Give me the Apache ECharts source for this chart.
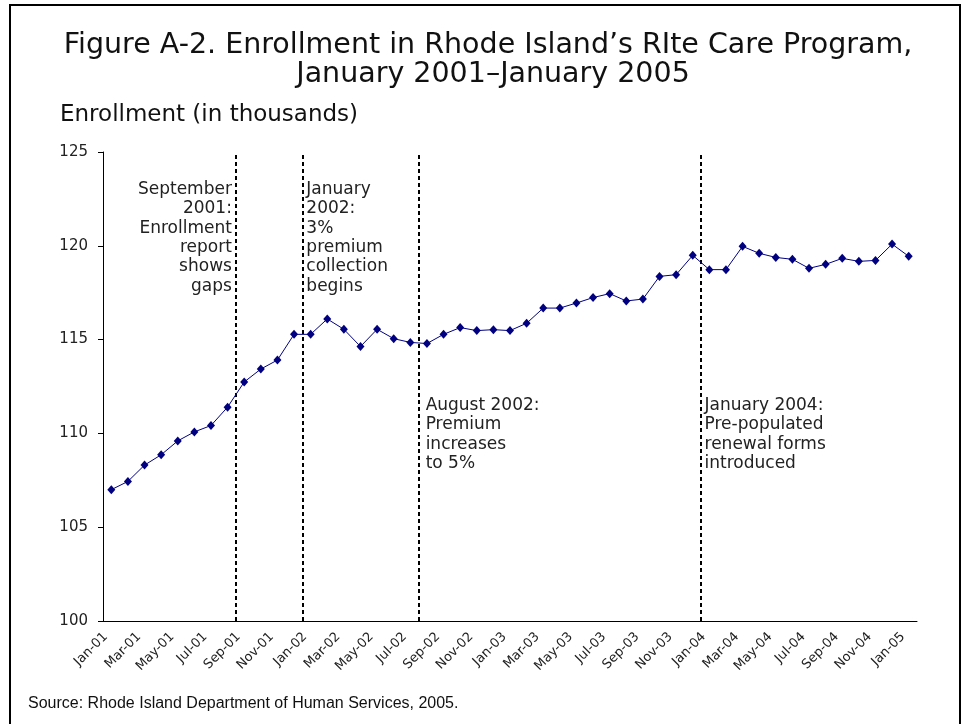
<!DOCTYPE html>
<html>
<head>
<meta charset="utf-8">
<script src="https://cdn.jsdelivr.net/npm/echarts@6/dist/echarts.min.js"></script>
<style>
html,body{margin:0;padding:0;background:#fff;}
#c{width:961px;height:724px;}
</style>
</head>
<body>
<div id="c"></div>
<script>
const months = ['Jan-01','Feb-01','Mar-01','Apr-01','May-01','Jun-01','Jul-01','Aug-01','Sep-01','Oct-01','Nov-01','Dec-01',
  'Jan-02','Feb-02','Mar-02','Apr-02','May-02','Jun-02','Jul-02','Aug-02','Sep-02','Oct-02','Nov-02','Dec-02',
  'Jan-03','Feb-03','Mar-03','Apr-03','May-03','Jun-03','Jul-03','Aug-03','Sep-03','Oct-03','Nov-03','Dec-03',
  'Jan-04','Feb-04','Mar-04','Apr-04','May-04','Jun-04','Jul-04','Aug-04','Sep-04','Oct-04','Nov-04','Dec-04',
  'Jan-05'];
const enrollment = [107.0,107.44,108.31,108.86,109.6,110.08,110.42,111.4,112.74,113.43,113.91,115.28,
  115.28,116.1,115.55,114.63,115.55,115.05,114.85,114.79,115.28,115.64,115.48,115.53,
  115.48,115.87,116.68,116.68,116.95,117.24,117.45,117.06,117.16,118.37,118.46,119.49,
  118.73,118.73,119.97,119.6,119.38,119.28,118.8,119.01,119.33,119.17,119.22,120.09,119.44];
const yTicks = [100,105,110,115,120,125];
// event boundaries: index of month where event starts (line drawn at start of that month)
const eventStart = [8, 12, 19, 36];
const eventNotes = [
  'September\n2001:\nEnrollment\nreport\nshows\ngaps',
  'January\n2002:\n3%\npremium\ncollection\nbegins',
  'August 2002:\nPremium\nincreases\nto 5%',
  'January 2004:\nPre-populated\nrenewal forms\nintroduced'
];
const titleLines = ["Figure A-2. Enrollment in Rhode Island\u2019s RIte Care Program,", "January 2001\u2013January 2005"];
const yAxisTitle = 'Enrollment (in thousands)';
const sourceNote = 'Source: Rhode Island Department of Human Services, 2005.';

const chart = echarts.init(document.getElementById('c'), null, {renderer:'canvas'});
const FONT = 'DejaVu Sans';
const option = {
  animation: false,
  textStyle: {fontFamily: FONT},
  grid: {left: 103, right: 44, top: 152, bottom: 103},
  xAxis: [{
    type: 'category', data: months, boundaryGap: true,
    axisLine: {lineStyle: {color: '#000', width: 1}},
    axisTick: {interval: 1, length: 5, lineStyle: {color: '#000'}},
    axisLabel: {interval: 1, rotate: 45, fontSize: 13, color: '#222', fontFamily: FONT, margin: 8, padding: [0, 8, 0, 0]}
  }, {
    type: 'value', min: 0, max: months.length, show: false
  }],
  yAxis: {
    type: 'value', min: yTicks[0], max: yTicks[yTicks.length-1], interval: yTicks[1]-yTicks[0],
    axisLine: {show: true, lineStyle: {color: '#000', width: 1}},
    axisTick: {show: true, length: 5, lineStyle: {color: '#000'}},
    axisLabel: {fontSize: 15, color: '#222', margin: 15, fontFamily: FONT},
    splitLine: {show: false}
  },
  series: [{
    type: 'line', data: enrollment, symbol: 'diamond', symbolSize: [8, 9],
    lineStyle: {color: '#000080', width: 1}, itemStyle: {color: '#000080'}, z: 5
  }, {
    type: 'line', xAxisIndex: 1, data: [],
    markLine: {
      silent: true, symbol: 'none', label: {show: false},
      lineStyle: {color: '#000', type: [4, 3], width: 2},
      data: eventStart.map(v => ({xAxis: v}))
    }
  }]
};
chart.setOption(option);

const xs = eventStart.map(v => chart.convertToPixel({xAxisIndex: 1}, v));
const annStyle = {fill: '#222', fontSize: 17, fontFamily: FONT, lineHeight: 19.3};
const graphics = [
  {type: 'rect', shape: {x: 10, y: 5, width: 950, height: 760}, style: {fill: 'none', stroke: '#000', lineWidth: 2}, silent: true},
  {type: 'text', x: 488, y: 46, style: {text: titleLines[0], fill: '#111', fontSize: 28.5, fontFamily: FONT, textAlign: 'center', textVerticalAlign: 'middle'}},
  {type: 'text', x: 493, y: 75, style: {text: titleLines[1], fill: '#111', fontSize: 28.5, fontFamily: FONT, textAlign: 'center', textVerticalAlign: 'middle'}},
  {type: 'text', x: 60, y: 115, style: {text: yAxisTitle, fill: '#111', fontSize: 23, fontFamily: FONT, textAlign: 'left', textVerticalAlign: 'middle'}},
  {type: 'text', x: 28, y: 704, style: {text: sourceNote, fill: '#111', fontSize: 16, fontFamily: 'Liberation Sans', textAlign: 'left', textVerticalAlign: 'middle'}},
  {type: 'text', x: xs[0] - 4, y: 180, style: Object.assign({text: eventNotes[0], textAlign: 'right', textVerticalAlign: 'top'}, annStyle)},
  {type: 'text', x: xs[1] + 4, y: 180, style: Object.assign({text: eventNotes[1], textAlign: 'left', textVerticalAlign: 'top'}, annStyle)},
  {type: 'text', x: xs[2] + 7, y: 396, style: Object.assign({text: eventNotes[2], textAlign: 'left', textVerticalAlign: 'top'}, annStyle)},
  {type: 'text', x: xs[3] + 3.5, y: 396, style: Object.assign({text: eventNotes[3], textAlign: 'left', textVerticalAlign: 'top'}, annStyle)}
];
chart.setOption({graphic: graphics});
</script>
</body>
</html>
